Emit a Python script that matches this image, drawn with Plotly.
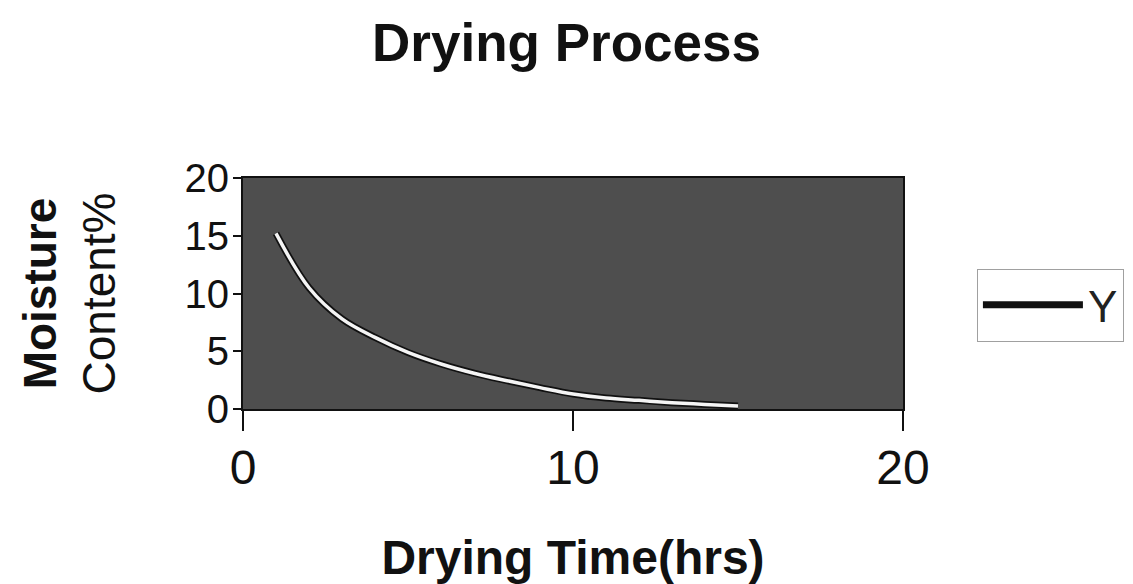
import plotly.graph_objects as go

# Data
drying_time = [1, 2, 3, 4, 5, 6, 7, 8, 9, 10, 11, 12, 13, 14, 15]
moisture = [15.2, 10.5, 7.8, 6.2, 4.9, 3.9, 3.1, 2.45, 1.85, 1.3, 0.95, 0.75, 0.55, 0.4, 0.25]
series_name = "Y"
x_ticks = [0, 10, 20]
y_ticks = [0, 5, 10, 15, 20]

FONT = "Liberation Sans, Arial, sans-serif"

fig = go.Figure()
# dark outline of the curve (also the legend entry)
fig.add_trace(go.Scatter(
    x=drying_time, y=moisture, mode="lines", name=series_name,
    line=dict(color="#111111", width=7, shape="spline"),
    legendgroup="y", showlegend=True,
))
# white core of the curve
fig.add_trace(go.Scatter(
    x=drying_time, y=moisture, mode="lines", name=series_name,
    line=dict(color="#f4f4f4", width=3.5, shape="spline"),
    legendgroup="y", showlegend=False, hoverinfo="skip",
))

fig.update_layout(
    width=1133, height=584,
    margin=dict(l=243, r=230, t=178, b=175, autoexpand=False),
    paper_bgcolor="white",
    plot_bgcolor="#4e4e4e",
    font=dict(family=FONT, color="#111111"),
    title=dict(text="<b>Drying Process</b>", x=0.5, xanchor="center",
               y=0.928, yanchor="middle",
               font=dict(family=FONT, size=53, color="#111111")),
    showlegend=True,
    legend=dict(
        x=1.112, xanchor="left", y=0.45, yanchor="middle",
        bgcolor="white", bordercolor="#a0a0a0", borderwidth=1,
        font=dict(family=FONT, size=44, color="#222222"),
        itemwidth=100,
    ),
)

fig.update_xaxes(
    range=[0, 20], tickvals=x_ticks, ticktext=[str(v) for v in x_ticks],
    showgrid=False, zeroline=False, automargin=False,
    showline=True, linecolor="#111111", linewidth=2, mirror=True,
    ticks="outside", ticklen=20, tickwidth=2, tickcolor="#111111",
    tickfont=dict(family=FONT, size=48, color="#111111"),
    ticklabelstandoff=-5,
    title=dict(text="<b>Drying Time(hrs)</b>", standoff=50,
               font=dict(family=FONT, size=48, color="#111111")),
)
fig.update_yaxes(
    range=[0, 20], tickvals=y_ticks, ticktext=[str(v) for v in y_ticks],
    showgrid=False, zeroline=False, automargin=False,
    showline=True, linecolor="#111111", linewidth=2, mirror=True,
    ticks="outside", ticklen=8, tickwidth=2, tickcolor="#111111",
    tickfont=dict(family=FONT, size=40, color="#111111"),
    ticklabelstandoff=-4,
    title=dict(text="<b>Moisture</b><br>Content%", standoff=54,
               font=dict(family=FONT, size=46, color="#111111")),
)

fig.write_html("out.html")
